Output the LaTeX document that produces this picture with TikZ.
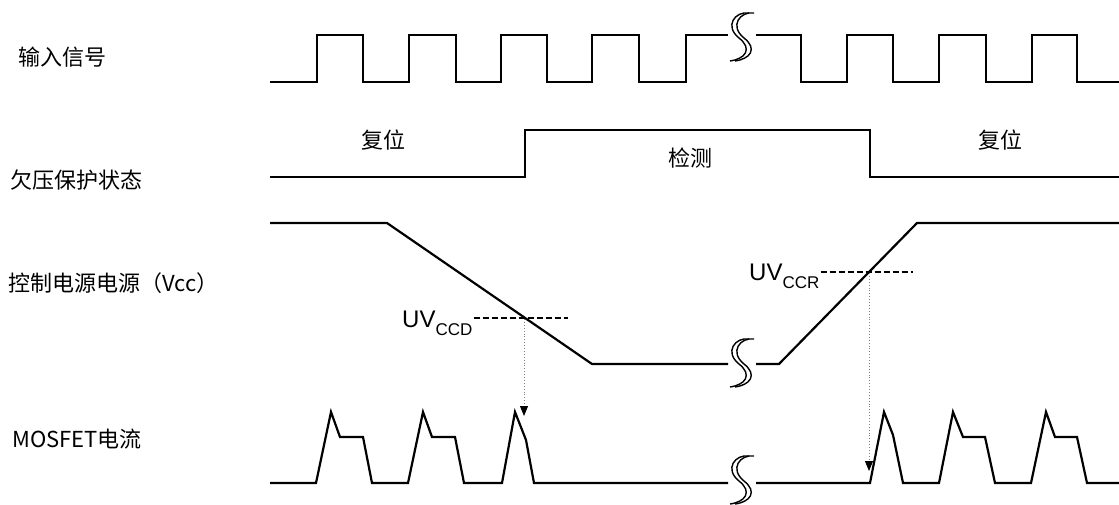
\documentclass[tikz,border=0pt]{standalone}
\usepackage{fontspec}
\setmainfont{Liberation Serif}
\newfontfamily\cjk{Noto Sans CJK SC}
\newfontfamily\uvfont{Liberation Sans}
\usepackage{tikz}
\usetikzlibrary{calc,arrows.meta}

\tikzset{
  wave/.style={line width=2.2pt, line join=miter},
  lbl/.style={font=\cjk\fontsize{22}{22}\selectfont, inner sep=0pt},
  thr/.style={line width=1.8pt, dash pattern=on 6pt off 3pt},
  drop/.style={line width=0.9pt, gray, dotted, -{Triangle[length=10pt,width=8pt,black]}},
  brkline/.style={line width=1.4pt},
}

% break mark centred at (#1,#2)
\newcommand{\brkmark}[2]{%
  \foreach \dx in {0,5} {
    \draw[brkline] (#1+\dx+10,#2-25) .. controls (#1+\dx-4,#2-27) and (#1+\dx-15,#2-12) .. (#1+\dx,#2)
      .. controls (#1+\dx+14,#2+11) and (#1+\dx+6,#2+21) .. (#1+\dx-9,#2+23);
  }
}

\begin{document}
\begin{tikzpicture}[x=1pt,y=-1pt]
\useasboundingbox (0,0) rectangle (1119,505);

% row labels
\node[lbl, anchor=west] (lin) at (18,57) {输入信号};
\node[lbl, anchor=west] (lstate) at (10,180) {欠压保护状态};
\node[lbl, anchor=west] (lvcc) at (8,283) {控制电源电源（Vcc）};
\node[lbl, anchor=west] (lmos) at (12,439) {MOSFET电流};

% input signal
\draw[wave] (270,82) -- (317,82) -- (317,35) -- (363,35) -- (363,82) -- (409,82) -- (409,35) -- (456,35)
  -- (456,82) -- (501,82) -- (501,35) -- (547,35) -- (547,82) -- (592,82) -- (592,35) -- (639,35)
  -- (639,82) -- (686,82) -- (686,35) -- (728,35);
\draw[wave] (756,35) -- (801,35) -- (801,82) -- (847,82) -- (847,35) -- (893,35) -- (893,82) -- (939,82)
  -- (939,35) -- (986,35) -- (986,82) -- (1032,82) -- (1032,35) -- (1077,35) -- (1077,82) -- (1119,82);
\brkmark{739}{38}

% UV protection state
\draw[wave] (270,177) -- (525,177) -- (525,130) -- (870,130) -- (870,177) -- (1119,177);
\node[lbl] (rst1) at (383,140) {复位};
\node[lbl] (det) at (690,158) {检测};
\node[lbl] (rst2) at (1000,140) {复位};

% Vcc
\draw[wave] (270,223) -- (387,223) -- (592,364) -- (728,364);
\draw[wave] (756,364) -- (779,364) -- (917,223) -- (1119,223);
\brkmark{739}{364}

% thresholds
\node[anchor=base west, inner sep=0pt, font=\uvfont\fontsize{24}{24}\selectfont] (uvd) at (402,327)
  {UV\raisebox{-8pt}{\fontsize{17}{17}\selectfont CCD}};
\node[anchor=base west, inner sep=0pt, font=\uvfont\fontsize{24}{24}\selectfont] (uvr) at (749,280)
  {UV\raisebox{-8pt}{\fontsize{17}{17}\selectfont CCR}};
\coordinate (dend) at (568,318);
\coordinate (rend) at (913,272);
\draw[thr] (uvd.east |- dend) ++(1,0) -- (dend);
\draw[thr] (uvr.east |- rend) ++(1,0) -- (rend);

\coordinate (dcross) at (524,319);
\coordinate (dtip) at (524,416);
\coordinate (rcross) at (869,273);
\coordinate (rtip) at (869,471);
\draw[drop] (dcross) -- (dtip);
\draw[drop] (rcross) -- (rtip);

% MOSFET current
\draw[wave] (270,483) -- (316,483) -- (331,412) -- (340,437) -- (363,437) -- (372,483)
  -- (408,483) -- (423,412) -- (432,437) -- (455,437) -- (464,483)
  -- (502,483) -- (515,412) -- (526,440) -- (534,483) -- (728,483);
\draw[wave] (756,483) -- (870,483) -- (884,412) -- (893,435) -- (903,483)
  -- (939,483) -- (953,412) -- (963,437) -- (985,437) -- (995,483)
  -- (1031,483) -- (1046,412) -- (1055,437) -- (1077,437) -- (1087,483) -- (1119,483);
\brkmark{739}{481}

\end{tikzpicture}
\end{document}
